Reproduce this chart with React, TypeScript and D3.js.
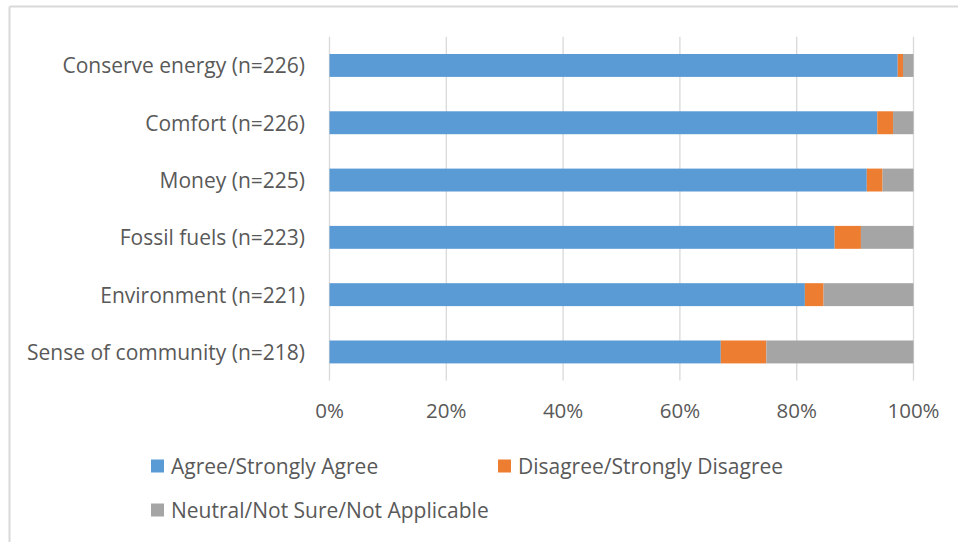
import React from "react";
import * as d3 from "d3";

// Survey motivations, share of responses per answer group (%)
const categories: string[] = [
  "Conserve energy (n=226)",
  "Comfort (n=226)",
  "Money (n=225)",
  "Fossil fuels (n=223)",
  "Environment (n=221)",
  "Sense of community (n=218)",
];
const agree: number[] = [97.3, 93.8, 92.0, 86.5, 81.4, 67.0];
const disagree: number[] = [0.9, 2.7, 2.7, 4.5, 3.2, 7.8];
const neutral: number[] = [1.8, 3.5, 5.3, 9.0, 15.4, 25.2];

const seriesNames: string[] = [
  "Agree/Strongly Agree",
  "Disagree/Strongly Disagree",
  "Neutral/Not Sure/Not Applicable",
];
const seriesColors: string[] = ["#5b9bd5", "#ed7d31", "#a5a5a5"];
const tickValues: number[] = [0, 20, 40, 60, 80, 100];

const W = 958;
const H = 542;
const FONT = "'Open Sans', 'Noto Sans', sans-serif";
const TEXT = "#595959";
const GRID = "#d9d9d9";

export default function App() {
  const x = d3.scaleLinear().domain([0, 100]).range([329.5, 913.5]);
  const y = d3
    .scaleBand<string>()
    .domain(categories)
    .range([36.8, 380.6])
    .paddingInner(0.6)
    .paddingOuter(0.3);

  const rows = categories.map((c, i) => ({
    cat: c,
    agree: agree[i],
    disagree: disagree[i],
    neutral: neutral[i],
  }));
  const stack = d3
    .stack<any>()
    .keys(["agree", "disagree", "neutral"])(rows);

  const legendItems = [
    { x: 151, y: 466, name: seriesNames[0], color: seriesColors[0] },
    { x: 498, y: 466, name: seriesNames[1], color: seriesColors[1] },
    { x: 151, y: 510, name: seriesNames[2], color: seriesColors[2] },
  ];

  return (
    <svg
      width={W}
      height={H}
      style={{ position: "absolute", left: 0, top: 0, background: "#fff" }}
      fontFamily={FONT}
    >
      <rect x={0} y={0} width={W} height={H} fill="#fff" />
      {/* chart frame */}
      <line x1={9.5} y1={6.5} x2={W} y2={6.5} stroke={GRID} strokeWidth={2} />
      <line x1={9.5} y1={6.5} x2={9.5} y2={H} stroke={GRID} strokeWidth={2} />

      {/* vertical gridlines */}
      {tickValues.map((t) => (
        <line
          key={"g" + t}
          x1={x(t)}
          x2={x(t)}
          y1={y.range()[0]}
          y2={y.range()[1]}
          stroke={GRID}
          strokeWidth={1.3}
        />
      ))}

      {/* stacked bars */}
      {stack.map((layer, si) => (
        <g key={"s" + si} fill={seriesColors[si]}>
          {layer.map((d: any, i: number) => (
            <rect
              key={i}
              x={x(d[0])}
              y={y(categories[i])}
              width={Math.max(0, x(d[1]) - x(d[0]))}
              height={y.bandwidth()}
            />
          ))}
        </g>
      ))}

      {/* category labels */}
      {categories.map((c) => (
        <text
          key={c}
          x={305}
          y={(y(c) as number) + y.bandwidth() / 2}
          textAnchor="end"
          dominantBaseline="central"
          fontSize={21}
          fill={TEXT}
        >
          {c}
        </text>
      ))}

      {/* x tick labels */}
      {tickValues.map((t) => (
        <text
          key={"t" + t}
          x={x(t)}
          y={418}
          textAnchor="middle"
          fontSize={20.5}
          fill={TEXT}
        >
          {d3.format(".0%")(t / 100)}
        </text>
      ))}

      {/* legend */}
      {legendItems.map((l) => (
        <g key={l.name}>
          <rect x={l.x} y={l.y - 6.5} width={13} height={13} fill={l.color} />
          <text
            x={l.x + 20}
            y={l.y}
            dominantBaseline="central"
            fontSize={21}
            fill={TEXT}
          >
            {l.name}
          </text>
        </g>
      ))}
    </svg>
  );
}
